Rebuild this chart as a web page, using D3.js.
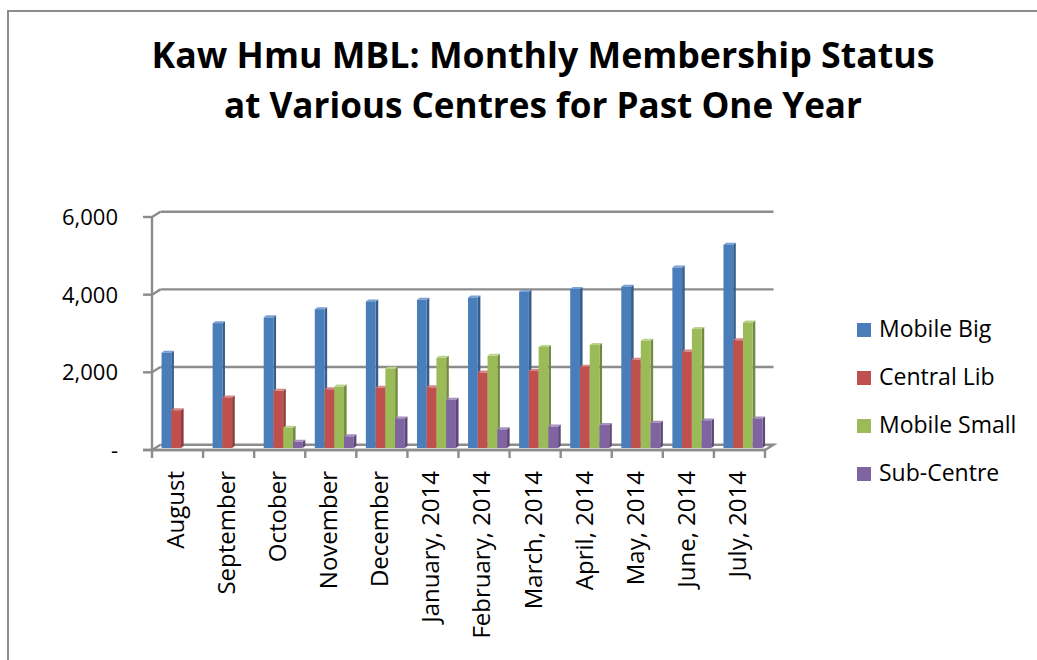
<!DOCTYPE html>
<html>
<head>
<meta charset="utf-8">
<script src="https://cdn.jsdelivr.net/npm/d3@7"></script>
<style>
  html, body { margin: 0; padding: 0; background: #fff; }
  svg { display: block; }
  text { font-family: "Open Sans", "Noto Sans", sans-serif; fill: #000; }
</style>
</head>
<body>
<svg id="chart" width="1037" height="660"></svg>
<script>
// values
var months = ['August', 'September', 'October', 'November', 'December', 'January, 2014',
  'February, 2014', 'March, 2014', 'April, 2014', 'May, 2014', 'June, 2014', 'July, 2014'];
var seriesNames = ['Mobile Big', 'Central Lib', 'Mobile Small', 'Sub-Centre'];
var mobileBig   = [2450, 3210, 3360, 3570, 3770, 3810, 3870, 4020, 4090, 4150, 4640, 5230];
var centralLib  = [970, 1300, 1470, 1510, 1550, 1560, 1940, 1980, 2090, 2270, 2480, 2770];
var mobileSmall = [0, 0, 520, 1580, 2040, 2320, 2370, 2600, 2650, 2760, 3060, 3230];
var subCentre   = [0, 0, 160, 300, 760, 1240, 480, 550, 590, 650, 710, 760];
var yTicks = [0, 2000, 4000, 6000];
var titleLines = ['Kaw Hmu MBL: Monthly Membership Status', 'at Various Centres for Past One Year'];

var series = [mobileBig, centralLib, mobileSmall, subCentre];
var colors = [
  { front: '#4a7ebb', side: '#365d8c', top: '#7aa0d4' },
  { front: '#c0504d', side: '#8d3a38', top: '#d88784' },
  { front: '#9bbb59', side: '#728a40', top: '#bcd48e' },
  { front: '#8064a2', side: '#5d4877', top: '#a790c2' }
];
var gridColor = '#8c8c8c';

var svg = d3.select('#chart');

// outer chart border
svg.append('rect').attr('x', 8).attr('y', 11).attr('width', 1040).attr('height', 660)
  .attr('fill', 'none').attr('stroke', gridColor).attr('stroke-width', 2);

// title
svg.append('g').selectAll('text').data(titleLines).enter().append('text')
  .attr('x', 543).attr('y', function (d, i) { return 68 + i * 50; })
  .attr('text-anchor', 'middle')
  .attr('font-size', 36).attr('font-weight', 700)
  .attr('textLength', function (d, i) { return i === 0 ? 783 : 638; })
  .attr('lengthAdjust', 'spacingAndGlyphs')
  .text(function (d) { return d; });

// 3d frame: front plane, back wall, bars in between
var front = { x0: 152, x1: 765 };
var depth = { dx: 8.5, dy: -5.3 };
var yFront = d3.scaleLinear().domain([0, 6000]).range([450, 217]);
var yBack = function (v) { return yFront(v) + depth.dy; };
var yBar = d3.scaleLinear().domain([0, 6000]).range([448, 214.7]);

var x0 = d3.scaleBand().domain(months).range([front.x0, front.x1]).padding(0);
var groupW = 39;
var x1 = d3.scaleBand().domain(seriesNames).range([0, groupW]).padding(0);
var barShift = 3.5;

var frame = svg.append('g').attr('fill', 'none').attr('stroke', gridColor).attr('stroke-width', 2.4);

// back wall gridlines + left wall connectors
yTicks.forEach(function (v) {
  if (v > 0) {
    frame.append('line')
      .attr('x1', front.x0 + depth.dx).attr('x2', front.x1 + depth.dx)
      .attr('y1', yBack(v)).attr('y2', yBack(v));
  }
  frame.append('line')
    .attr('x1', front.x0).attr('y1', yFront(v))
    .attr('x2', front.x0 + depth.dx).attr('y2', yBack(v));
  // y tick
  frame.append('line')
    .attr('x1', front.x0 - 9).attr('x2', front.x0)
    .attr('y1', yFront(v)).attr('y2', yFront(v));
});

// floor
frame.append('path').attr('d', d3.line()([
  [front.x0, yFront(0)], [front.x1, yFront(0)],
  [front.x1 + depth.dx, yBack(0)], [front.x0 + depth.dx, yBack(0)]
]));

// bars
var bars = svg.append('g');
months.forEach(function (m, mi) {
  series.forEach(function (vals, si) {
    var v = vals[mi];
    if (!v) return;
    var c = colors[si];
    var x = x0(m) + (x0.bandwidth() - groupW) / 2 + barShift + x1(seriesNames[si]);
    var w = x1.bandwidth();
    var yt = yBar(v), yb = yBar(0);
    var dx = 2.6, dy = -2;
    var g = bars.append('g');
    g.append('polygon').attr('fill', c.side)
      .attr('points', [[x + w, yt], [x + w + dx, yt + dy], [x + w + dx, yb + dy], [x + w, yb]].join(' '));
    g.append('polygon').attr('fill', c.top)
      .attr('points', [[x, yt], [x + dx, yt + dy], [x + w + dx, yt + dy], [x + w, yt]].join(' '));
    g.append('rect').attr('x', x).attr('y', yt).attr('width', w).attr('height', yb - yt)
      .attr('fill', c.front);
  });
});

// y axis line and category ticks in front
var axisG = svg.append('g').attr('stroke', gridColor).attr('stroke-width', 2.4);
axisG.append('line').attr('x1', front.x0).attr('x2', front.x0)
  .attr('y1', yFront(6000)).attr('y2', yFront(0));
axisG.append('line').attr('x1', front.x0 - 9).attr('x2', front.x1)
  .attr('y1', yFront(0)).attr('y2', yFront(0));
axisG.selectAll('line.tick').data(months.concat([null])).enter().append('line')
  .attr('class', 'tick')
  .attr('x1', function (d, i) { return front.x0 + i * x0.step(); })
  .attr('x2', function (d, i) { return front.x0 + i * x0.step(); })
  .attr('y1', yFront(0)).attr('y2', yFront(0) + 8);

// y labels
svg.append('g').selectAll('text').data(yTicks).enter().append('text')
  .attr('x', 118).attr('y', function (d) { return yFront(d) + 2; })
  .attr('text-anchor', 'end').attr('dominant-baseline', 'middle')
  .attr('font-size', 22)
  .text(function (d) { return d === 0 ? '-' : d3.format(',')(d); });

// x labels
svg.append('g').selectAll('text').data(months).enter().append('text')
  .attr('transform', function (d) {
    return 'translate(' + (x0(d) + x0.bandwidth() / 2) + ',471) rotate(-90)';
  })
  .attr('text-anchor', 'end').attr('dominant-baseline', 'middle')
  .attr('font-size', 24)
  .text(function (d) { return d; });

// legend
var legend = svg.append('g').selectAll('g').data(seriesNames).enter().append('g')
  .attr('transform', function (d, i) { return 'translate(857,' + (330 + i * 48) + ')'; });
legend.append('rect').attr('x', 0).attr('y', -7).attr('width', 14).attr('height', 14)
  .attr('fill', function (d, i) { return colors[i].front; });
legend.append('text').attr('x', 22).attr('y', 1)
  .attr('dominant-baseline', 'middle').attr('font-size', 23)
  .text(function (d) { return d; });
</script>
</body>
</html>
